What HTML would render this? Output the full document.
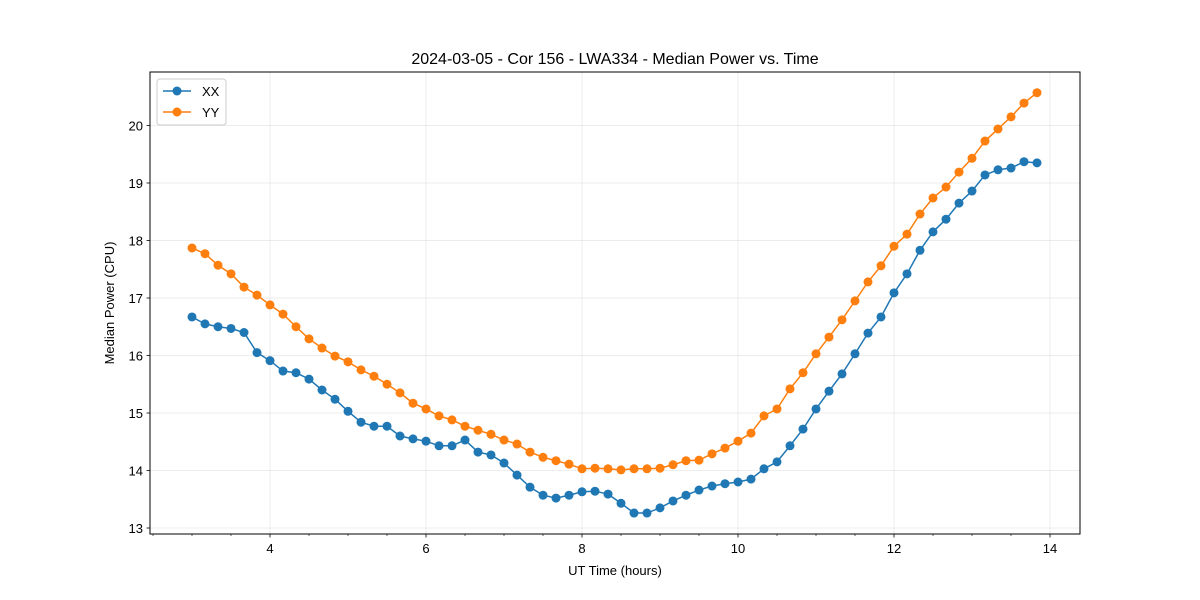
<!DOCTYPE html>
<html><head><meta charset="utf-8"><style>
html,body{margin:0;padding:0;background:#fff;}
svg{display:block;font-family:"Liberation Sans","DejaVu Sans",sans-serif;}
</style></head><body>
<svg id="chart" width="1200" height="600" viewBox="0 0 1200 600">
<rect x="0" y="0" width="1200" height="600" fill="#fff"/>
<text x="615" y="64" text-anchor="middle" font-size="16" fill="#000">2024-03-05 - Cor 156 - LWA334 - Median Power vs. Time</text>
<g id="grid"></g>
<g id="series"></g>
<rect x="150" y="72" width="930" height="462" fill="none" stroke="#000" stroke-width="1"/>
<g id="axes"></g>
<text x="615" y="575" text-anchor="middle" font-size="13">UT Time (hours)</text>
<text transform="translate(114,303) rotate(-90)" text-anchor="middle" font-size="13">Median Power (CPU)</text>
<g>
<rect x="157" y="79" width="69" height="46" rx="3" fill="#fff" fill-opacity="0.8" stroke="#ccc"/>
<g><line x1="163" y1="91" x2="191" y2="91" stroke="#1f77b4" stroke-width="1.5"/><circle cx="177" cy="91" r="4.5" fill="#1f77b4"/><text x="202" y="96" font-size="13">XX</text></g>
<g><line x1="163" y1="112" x2="191" y2="112" stroke="#ff7f0e" stroke-width="1.5"/><circle cx="177" cy="112" r="4.5" fill="#ff7f0e"/><text x="202" y="117" font-size="13">YY</text></g>
</g>
</svg>
<script>
const startHour = 3.0;
const stepHour = 1/6;
const xxValues = [16.67,16.55,16.50,16.47,16.40,16.05,15.91,15.73,15.70,15.59,15.40,15.24,15.03,14.84,14.77,14.77,14.60,14.55,14.51,14.43,14.43,14.53,14.32,14.27,14.13,13.92,13.71,13.57,13.52,13.57,13.63,13.64,13.59,13.43,13.26,13.26,13.35,13.47,13.57,13.66,13.73,13.77,13.80,13.85,14.03,14.15,14.43,14.72,15.07,15.38,15.68,16.03,16.39,16.67,17.09,17.42,17.83,18.15,18.37,18.65,18.86,19.14,19.23,19.26,19.37,19.35];
const yyValues = [17.87,17.77,17.57,17.42,17.19,17.05,16.88,16.72,16.50,16.29,16.13,15.99,15.89,15.75,15.64,15.50,15.35,15.17,15.07,14.95,14.88,14.77,14.70,14.63,14.53,14.46,14.32,14.23,14.17,14.11,14.03,14.04,14.03,14.01,14.03,14.03,14.04,14.10,14.17,14.18,14.29,14.39,14.51,14.65,14.95,15.07,15.42,15.70,16.03,16.32,16.62,16.95,17.28,17.56,17.90,18.11,18.46,18.74,18.93,19.19,19.43,19.73,19.94,20.15,20.39,20.57];
const xTicks = [4,6,8,10,12,14];
const yTicks = [13,14,15,16,17,18,19,20];

const NS = "http://www.w3.org/2000/svg";
const X0=150,X1=1080,Y0=534,Y1=72;
const xMin=2.4615,xMax=14.3846,yMin=12.8957,yMax=20.9304;
const xs = v => X0 + (v-xMin)/(xMax-xMin)*(X1-X0);
const ys = v => Y0 - (v-yMin)/(yMax-yMin)*(Y0-Y1);
function mk(tag, attrs, parent){const e=document.createElementNS(NS,tag);for(const k in attrs)e.setAttribute(k,attrs[k]);parent.appendChild(e);return e;}
const grid=document.getElementById('grid'), axes=document.getElementById('axes'), series=document.getElementById('series');

xTicks.forEach(t=>{
  const x=xs(t);
  const g=mk('line',{x1:x,x2:x,y1:Y1,y2:Y0,stroke:'#b0b0b0','stroke-width':0.8,'stroke-opacity':0.3},grid);
  
  
  mk('line',{x1:x,x2:x,y1:Y0,y2:Y0+3.5,stroke:'#000','stroke-width':0.8},axes);
  const tx=mk('text',{x:x,y:Y0+19,'text-anchor':'middle','font-size':13},axes);
  tx.textContent=t;
  
  
});
for(let m=2.5;m<=14.01;m+=0.5){
  if(Number.isInteger(m)&&m%2===0)continue;
  mk('line',{x1:xs(m),x2:xs(m),y1:Y0,y2:Y0+2,stroke:'#000','stroke-width':0.6},axes);
}
yTicks.forEach(t=>{
  const y=ys(t);
  const g=mk('line',{x1:X0,x2:X1,y1:y,y2:y,stroke:'#b0b0b0','stroke-width':0.8,'stroke-opacity':0.3},grid);
  
  
  mk('line',{x1:X0-3.5,x2:X0,y1:y,y2:y,stroke:'#000','stroke-width':0.8},axes);
  const tx=mk('text',{x:X0-7,y:y+5,'text-anchor':'end','font-size':13},axes);
  tx.textContent=t;
  
  
});

function drawSeries(vals,color,name){
  const g=mk('g',{},series);
  
  
  const pts=vals.map((v,i)=>xs(startHour+i*stepHour).toFixed(2)+','+ys(v).toFixed(2)).join(' ');
  const pl=mk('polyline',{points:pts,fill:'none',stroke:color,'stroke-width':1.5},g);
  
  
  vals.forEach((v,i)=>{
    const c=mk('circle',{cx:xs(startHour+i*stepHour),cy:ys(v),r:4.5,fill:color},g);
    
    
  });
}
drawSeries(xxValues,'#1f77b4','xx');
drawSeries(yyValues,'#ff7f0e','yy');
</script>
</body></html>
